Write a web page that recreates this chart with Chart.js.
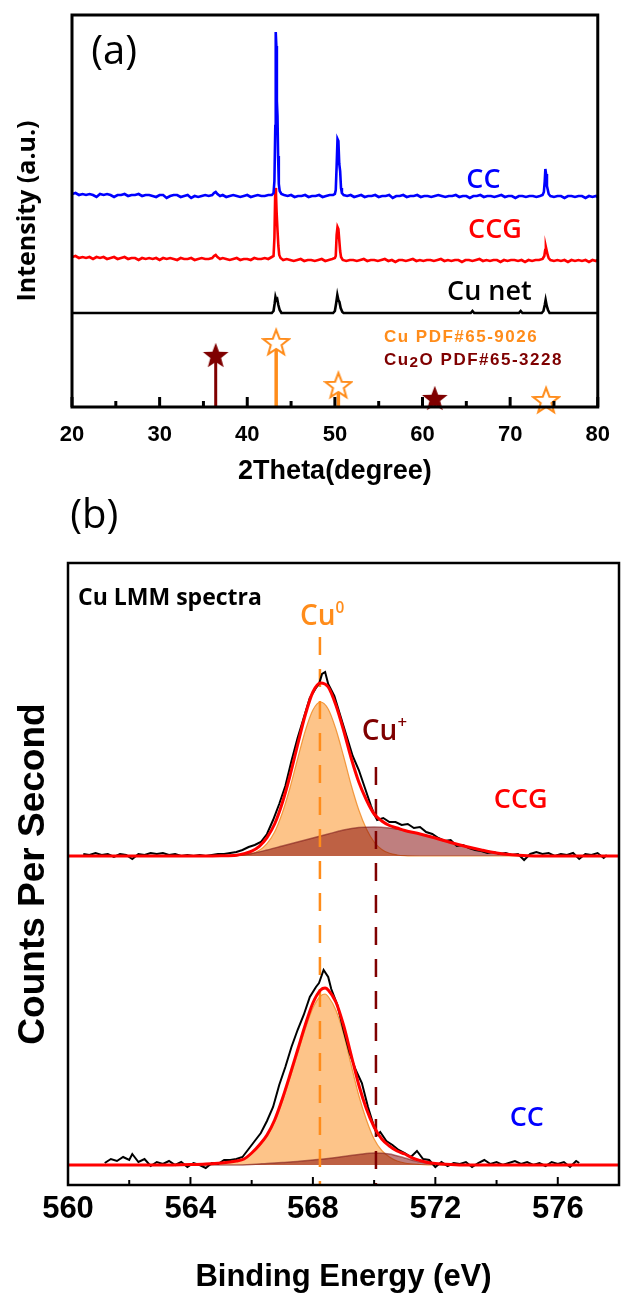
<!DOCTYPE html>
<html>
<head>
<meta charset="utf-8">
<script src="https://cdn.jsdelivr.net/npm/chart.js@4.4.1/dist/chart.umd.min.js"></script>
<style>
  html, body { margin: 0; padding: 0; background: #fff; }
  #wrap { position: relative; width: 625px; height: 1296px; }
  canvas { position: absolute; left: 0; }
  #xrd { top: 0; }
  #xps { top: 490px; }
</style>
</head>
<body>
<div id="wrap">
  <canvas id="xrd" width="625" height="490"></canvas>
  <canvas id="xps" width="625" height="806"></canvas>
</div>
<script>
// ---------- (a) XRD data: [2theta, intensity above the pattern's own baseline] ----------
const xrdTicks = [20, 30, 40, 50, 60, 70, 80];
const xrdMinorTicks = [25, 35, 45, 55, 65, 75];

const ccBase = 211, ccgBase = 147, cuNetBase = 94;

const ccPattern = [[20.0,2],[20.4,3],[20.8,1],[21.2,2],[21.6,1],[22.0,2],[22.4,1],[22.8,-1],[23.2,2],[23.6,1],[24.0,2],[24.4,1],[24.8,-1],[25.2,1],[25.6,1],[26.0,2],[26.4,0],[26.8,1],[27.2,1],[27.6,2],[28.0,0],[28.4,1],[28.8,1],[29.2,0],[29.6,-1],[30.0,1],[30.4,1],[30.8,-2],[31.2,0],[31.6,1],[32.0,1],[32.4,-1],[32.8,0],[33.2,1],[33.6,-2],[34.0,0],[34.4,-1],[34.8,0],[35.2,1],[35.6,0],[36.0,1],[36.2,3],[36.4,4],[36.6,2],[36.9,0],[37.2,1],[37.6,-1],[38.0,0],[38.4,1],[38.8,0],[39.2,-1],[39.6,0],[40.0,1],[40.4,-1],[40.8,0],[41.2,1],[41.6,0],[42.0,0],[42.4,1],[42.8,1],[43.0,3],[43.1,15],[43.2,70],[43.25,164],[43.32,150],[43.38,95],[43.45,80],[43.52,40],[43.6,12],[43.7,5],[43.9,2],[44.2,1],[44.6,0],[45.0,1],[45.4,-1],[45.8,0],[46.2,0],[46.6,1],[47.0,-1],[47.4,0],[47.8,0],[48.2,1],[48.6,-1],[49.0,0],[49.4,1],[49.8,1],[50.0,2],[50.1,6],[50.2,30],[50.3,57],[50.4,55],[50.5,32],[50.6,25],[50.7,8],[50.8,3],[51.0,1],[51.4,0],[51.8,1],[52.2,-1],[52.6,0],[53.0,1],[53.4,-1],[53.8,0],[54.2,0],[54.6,1],[55.0,-1],[55.4,0],[55.8,0],[56.2,1],[56.6,-2],[57.0,0],[57.4,0],[57.8,1],[58.2,-1],[58.6,0],[59.0,0],[59.4,1],[59.8,-1],[60.2,0],[60.6,0],[61.0,-1],[61.4,0],[61.8,1],[62.2,0],[62.6,-1],[63.0,0],[63.4,0],[63.8,1],[64.2,-1],[64.6,0],[65.0,0],[65.4,-2],[65.8,0],[66.2,0],[66.6,1],[67.0,-1],[67.4,0],[67.8,0],[68.2,-1],[68.6,0],[69.0,1],[69.4,-1],[69.8,0],[70.2,0],[70.6,-2],[71.0,0],[71.4,0],[71.8,-1],[72.2,0],[72.6,0],[73.0,-1],[73.4,0],[73.7,1],[73.85,4],[73.95,15],[74.02,27],[74.1,22],[74.2,10],[74.3,6],[74.4,2],[74.6,0],[75.0,-1],[75.4,0],[75.8,0],[76.2,-2],[76.6,0],[77.0,0],[77.4,-1],[77.8,0],[78.2,0],[78.6,-2],[79.0,0],[79.4,-1],[79.8,0],[80.0,-1]];

const ccgPattern = [[20.0,3],[20.4,4],[20.8,2],[21.2,3],[21.6,2],[22.0,3],[22.4,1],[22.8,3],[23.2,2],[23.6,3],[24.0,1],[24.4,2],[24.8,3],[25.2,1],[25.6,2],[26.0,3],[26.4,1],[26.8,2],[27.2,2],[27.6,0],[28.0,2],[28.4,1],[28.8,2],[29.2,1],[29.6,2],[30.0,0],[30.4,2],[30.8,1],[31.2,2],[31.6,1],[32.0,0],[32.4,2],[32.8,1],[33.2,1],[33.6,2],[34.0,0],[34.4,1],[34.8,2],[35.2,1],[35.6,1],[36.0,2],[36.2,4],[36.4,5],[36.6,3],[36.9,1],[37.2,2],[37.6,1],[38.0,0],[38.4,1],[38.8,2],[39.2,0],[39.6,1],[40.0,1],[40.4,0],[40.8,2],[41.2,1],[41.6,1],[42.0,2],[42.4,1],[42.8,3],[43.0,4],[43.1,22],[43.2,72],[43.28,66],[43.35,48],[43.45,30],[43.55,14],[43.65,5],[43.8,2],[44.1,0],[44.5,1],[44.9,0],[45.3,-1],[45.7,0],[46.1,1],[46.5,-1],[46.9,0],[47.3,0],[47.7,-1],[48.1,0],[48.5,1],[48.9,-1],[49.3,0],[49.7,1],[50.0,2],[50.1,4],[50.2,25],[50.3,33],[50.4,31],[50.5,20],[50.6,9],[50.7,3],[50.9,0],[51.3,-1],[51.7,0],[52.1,0],[52.5,-1],[52.9,0],[53.3,1],[53.7,-1],[54.1,0],[54.5,0],[54.9,-1],[55.3,0],[55.7,1],[56.1,-1],[56.5,0],[56.9,-2],[57.3,0],[57.7,0],[58.1,-1],[58.5,0],[58.9,1],[59.3,-1],[59.7,0],[60.1,-1],[60.5,0],[60.9,0],[61.3,-1],[61.7,0],[62.1,1],[62.5,-1],[62.9,0],[63.3,-1],[63.7,0],[64.1,0],[64.5,-2],[64.9,0],[65.3,0],[65.7,-1],[66.1,0],[66.5,1],[66.9,-1],[67.3,0],[67.7,-1],[68.1,0],[68.5,0],[68.9,-2],[69.3,0],[69.7,-1],[70.1,0],[70.5,0],[70.9,-1],[71.3,0],[71.7,-2],[72.1,0],[72.5,-1],[72.9,0],[73.3,0],[73.7,1],[73.9,4],[74.0,10],[74.08,13],[74.18,9],[74.28,5],[74.4,2],[74.6,0],[75.0,-1],[75.4,0],[75.8,-1],[76.2,0],[76.6,-2],[77.0,0],[77.4,-1],[77.8,0],[78.2,-1],[78.6,0],[79.0,-2],[79.4,0],[79.8,-1],[80.0,0]];

const cuNetPattern = [[20,0],[30,0],[40,0],[42.8,0],[43.0,2],[43.12,9],[43.22,16],[43.32,13],[43.42,14],[43.55,8],[43.7,3],[43.9,0],[49.8,0],[50.0,2],[50.15,10],[50.28,18],[50.4,13],[50.52,11],[50.66,5],[50.85,1],[51.0,0],[65.5,0],[65.7,2],[65.9,0],[71.0,0],[71.2,2],[71.4,0],[73.6,0],[73.8,2],[73.95,8],[74.05,13],[74.18,7],[74.32,3],[74.5,0],[80,0]];

// standard cards (stick positions, relative heights)
const cuCardTheta = [43.3, 50.4, 74.1];
const cuCardHeight = [65, 22, 7];
const cu2oCardTheta = [36.4, 61.4];
const cu2oCardHeight = [52, 9];

// ---------- (b) XPS Cu LMM data: [binding energy, counts above baseline] ----------
const xpsTicks = [560, 564, 568, 572, 576];
const xpsMinorTicks = [562, 566, 570, 574];
const cu0Energy = 568.23, cuPlusEnergy = 570.06;

const ccgOffset = 309, ccOffset = 0;

const ccgRaw = [[560.5,2],[560.7,1],[560.9,3],[561.1,1],[561.3,2],[561.5,-1],[561.7,2],[561.9,1],[562.1,-3],[562.3,2],[562.5,1],[562.7,3],[562.9,2],[563.1,3],[563.3,1],[563.5,2],[563.7,0],[563.9,1],[564.1,0],[564.3,1],[564.5,0],[564.7,1],[564.9,2],[565.1,2],[565.3,3],[565.5,4],[565.7,6],[565.9,9],[566.1,11],[566.3,14],[566.5,22],[566.7,36],[566.9,52],[567.1,70],[567.3,95],[567.5,118],[567.7,138],[567.9,158],[568.1,168],[568.2,172],[568.3,182],[568.4,184],[568.5,172],[568.7,160],[568.9,140],[569.1,120],[569.3,100],[569.5,86],[569.7,68],[569.9,50],[570.0,42],[570.1,36],[570.3,38],[570.5,34],[570.7,34],[570.9,31],[571.1,32],[571.3,28],[571.5,29],[571.7,24],[571.9,22],[572.1,18],[572.3,15],[572.5,16],[572.7,10],[572.9,11],[573.1,8],[573.3,6],[573.5,5],[573.7,3],[573.9,4],[574.1,2],[574.3,3],[574.5,1],[574.7,2],[574.9,-4],[575.1,2],[575.3,4],[575.5,2],[575.7,3],[575.9,0],[576.1,2],[576.3,1],[576.5,3],[576.7,-3],[576.9,2],[577.1,1],[577.3,3],[577.5,-2],[577.6,1]];
const ccgFit = [[560,0],[562,0],[564,0],[565,0.3],[565.5,0.8],[565.75,2.4],[566,4.9],[566.25,9.7],[566.5,18.4],[566.75,32],[567,53],[567.25,80],[567.5,111],[567.75,141],[568,164],[568.25,173],[568.5,169],[568.75,151],[569,126],[569.25,98],[569.5,74],[569.75,56],[570,42],[570.25,35],[570.5,30.5],[570.75,28],[571,25.5],[571.5,22],[572,18],[572.5,13.5],[573,9.5],[573.5,6],[574,3],[574.5,1.2],[575,0.3],[575.5,0],[578,0]];
const ccgCu0 = [[560,0],[565.25,0],[565.5,0.3],[565.75,0.9],[566,2.4],[566.25,5.7],[566.5,12.4],[566.75,24],[567,43],[567.25,68],[567.5,97],[567.75,125],[568,146],[568.25,154],[568.5,147],[568.75,127],[569,100],[569.25,71],[569.5,46],[569.75,27],[570,14],[570.25,6.5],[570.5,2.7],[570.75,1],[571,0.3],[571.5,0],[578,0]];
const ccgCuPlus = [[560,0],[565,0],[565.5,0.5],[566,2.5],[566.5,6],[567,10],[567.5,14],[568,18],[568.5,22],[569,26],[569.5,28.5],[570,29],[570.5,28],[571,25.5],[571.5,22],[572,18],[572.5,13.5],[573,9.5],[573.5,6],[574,3],[574.5,1.2],[575,0.3],[575.5,0],[578,0]];

const ccRaw = [[561.2,2],[561.4,6],[561.6,4],[561.8,8],[562.0,5],[562.1,11],[562.3,3],[562.5,6],[562.7,-1],[562.9,3],[563.1,1],[563.3,4],[563.5,0],[563.7,3],[563.9,-2],[564.1,2],[564.3,0],[564.5,-3],[564.7,2],[564.9,1],[565.1,5],[565.3,5],[565.5,6],[565.7,8],[565.9,16],[566.1,24],[566.3,32],[566.5,44],[566.7,58],[566.9,80],[567.1,98],[567.3,118],[567.5,135],[567.7,150],[567.9,168],[568.1,178],[568.2,182],[568.35,195],[568.5,188],[568.6,176],[568.8,160],[569.0,135],[569.2,112],[569.4,95],[569.6,82],[569.8,58],[570.0,38],[570.1,30],[570.2,33],[570.4,24],[570.6,20],[570.8,15],[571.0,12],[571.2,8],[571.4,14],[571.6,6],[571.8,5],[572.0,-2],[572.2,3],[572.4,-1],[572.6,2],[572.8,1],[573.0,3],[573.2,-2],[573.4,2],[573.6,5],[573.8,1],[574.0,3],[574.2,0],[574.4,2],[574.6,4],[574.8,1],[575.0,3],[575.2,0],[575.4,2],[575.6,-1],[575.8,3],[576.0,1],[576.2,3],[576.4,-2],[576.6,4],[576.7,2]];
const ccFit = [[560,0],[563,0],[564,0.5],[564.5,1],[565,2],[565.5,4],[565.75,6],[566,12],[566.25,20],[566.5,30],[566.75,45],[567,66],[567.25,90],[567.5,115],[567.75,140],[568,162],[568.25,175],[568.4,177],[568.5,175],[568.75,163],[569,140],[569.25,110],[569.5,80],[569.75,56],[570,38],[570.25,26],[570.5,19],[570.75,14],[571,11],[571.25,7],[571.5,4.5],[571.75,2.5],[572,1.5],[572.5,0.5],[573,0],[578,0]];
const ccCu0 = [[560,0],[564.5,0],[565,2],[565.5,4],[565.75,6],[566,11.5],[566.25,19],[566.5,28.5],[566.75,43],[567,63.5],[567.25,87],[567.5,111.5],[567.75,136],[568,157],[568.25,169],[568.4,171],[568.5,168.5],[568.75,155],[569,131.5],[569.25,100],[569.5,69.5],[569.75,45],[570,26],[570.25,14.5],[570.5,8],[570.75,4],[571,2],[571.5,0.5],[572,0],[578,0]];
const ccCuPlus = [[560,0],[565.5,0],[566,0.5],[566.5,1.5],[567,2.5],[567.5,3.5],[568,5],[568.5,6.5],[569,8.5],[569.5,10.5],[570,12],[570.5,11],[571,7],[571.5,3],[572,1],[572.5,0],[578,0]];

// ---------- helpers ----------
const pts = (arr, off) => arr.map(([x, y]) => ({ x: x, y: y + off }));

function makeStar(fill, stroke, size) {
  const c = document.createElement('canvas');
  c.width = size; c.height = size;
  const g = c.getContext('2d');
  const R = size / 2 - 1.5, r = R * 0.42;
  const cx = size / 2, cy = size / 2 + R * 0.095;
  g.beginPath();
  for (let i = 0; i < 10; i++) {
    const a = -Math.PI / 2 + i * Math.PI / 5;
    const rad = i % 2 ? r : R;
    g.lineTo(cx + rad * Math.cos(a), cy + rad * Math.sin(a));
  }
  g.closePath();
  g.fillStyle = fill;
  g.fill();
  if (stroke) { g.strokeStyle = stroke; g.lineWidth = 2; g.stroke(); }
  return c;
}

// box with inward ticks on the bottom axis
const frame = {
  id: 'frame',
  afterDatasetsDraw(chart, args, o) {
    const { ctx, chartArea: a } = chart;
    const x = chart.scales.x;
    ctx.save();
    ctx.strokeStyle = '#000';
    ctx.lineWidth = o.width;
    ctx.strokeRect(a.left, a.top, a.right - a.left, a.bottom - a.top);
    ctx.lineWidth = o.tickWidth;
    const tick = (v, len) => {
      const p = x.getPixelForValue(v);
      ctx.beginPath();
      ctx.moveTo(p, a.bottom);
      ctx.lineTo(p, a.bottom - len);
      ctx.stroke();
    };
    o.major.forEach(v => tick(v, o.majorLen));
    o.minor.forEach(v => tick(v, o.minorLen));
    ctx.restore();
  }
};

// text notes placed in data coordinates; each note is a list of runs (for sub/superscripts)
const notes = {
  id: 'notes',
  afterDraw(chart, args, o) {
    const { ctx } = chart;
    const x = chart.scales.x, y = chart.scales.y;
    ctx.save();
    ctx.textBaseline = 'middle';
    ctx.textAlign = 'left';
    for (const n of o.items) {
      let px = x.getPixelForValue(n.x);
      const py = y.getPixelForValue(n.y);
      if ('letterSpacing' in ctx) ctx.letterSpacing = (n.spacing || 0) + 'px';
      ctx.fillStyle = n.color;
      for (const r of n.runs) {
        ctx.font = `${n.weight} ${n.size * (r.scale || 1)}px ${n.family}`;
        ctx.fillText(r.t, px, py + (r.dy || 0) * n.size);
        px += ctx.measureText(r.t).width;
      }
    }
    ctx.restore();
  }
};

Chart.register(frame, notes);

const OPEN = '"Open Sans", "Liberation Sans", sans-serif';
const ARIAL = '"Liberation Sans", Arial, sans-serif';

// ---------- chart (a) ----------
const orange = '#ff8c1a', darkRed = '#7f0000';

const sticks = [];
cuCardTheta.forEach((t, i) => sticks.push({
  data: [{ x: t, y: 0 }, { x: t, y: cuCardHeight[i] }],
  borderColor: orange, borderWidth: 3.5, pointRadius: 0
}));
cu2oCardTheta.forEach((t, i) => sticks.push({
  data: [{ x: t, y: 0 }, { x: t, y: cu2oCardHeight[i] }],
  borderColor: darkRed, borderWidth: 3, pointRadius: 0
}));

const xrdLine = (arr, off, color) => ({
  data: pts(arr, off), borderColor: color, borderWidth: 2.6,
  pointRadius: 0, tension: 0
});

new Chart(document.getElementById('xrd'), {
  type: 'line',
  data: {
    datasets: [
      xrdLine(ccPattern, ccBase, '#0000ff'),
      xrdLine(ccgPattern, ccgBase, '#ff0000'),
      xrdLine(cuNetPattern, cuNetBase, '#000000'),
      {
        data: cuCardTheta.map((t, i) => ({ x: t, y: cuCardHeight[i] })),
        showLine: false, pointStyle: makeStar('#ffffff', orange, 30), pointRadius: 14, clip: false
      },
      {
        data: cu2oCardTheta.map((t, i) => ({ x: t, y: cu2oCardHeight[i] })),
        showLine: false, pointStyle: makeStar(darkRed, null, 30), pointRadius: 14, clip: false
      },
      ...sticks
    ]
  },
  options: {
    responsive: false,
    animation: false,
    devicePixelRatio: 1,
    layout: { padding: { left: 0, right: 17, top: 15, bottom: 0 } },
    scales: {
      x: {
        type: 'linear', min: 20, max: 80,
        afterBuildTicks: s => { s.ticks = xrdTicks.map(v => ({ value: v })); },
        afterFit: s => { s.height = 83; },
        grid: { display: false, drawTicks: false },
        border: { display: false },
        ticks: { color: '#000', padding: 15, font: { family: ARIAL, size: 22, weight: 'bold' } },
        title: {
          display: true, text: '2Theta(degree)', color: '#000',
          font: { family: ARIAL, size: 27, weight: 'bold' }, padding: { top: 0, bottom: 2 }
        }
      },
      y: {
        min: 0, max: 392,
        afterFit: s => { s.width = 72; },
        grid: { display: false, drawTicks: false },
        border: { display: false },
        ticks: { display: false },
        title: {
          display: true, text: 'Intensity (a.u.)', color: '#000',
          font: { family: OPEN, size: 25, weight: 'bold' }, padding: { top: 13, bottom: 0 }
        }
      }
    },
    plugins: {
      legend: { display: false },
      tooltip: { enabled: false },
      frame: { width: 3, tickWidth: 3, major: xrdTicks, minor: xrdMinorTicks, majorLen: 10, minorLen: 6 },
      notes: {
        items: [
          { x: 22.2, y: 354, color: '#000', size: 40, weight: 'normal', family: OPEN, runs: [{ t: '(a)' }] },
          { x: 65.0, y: 227, color: '#0000ff', size: 27, weight: '600', family: OPEN, runs: [{ t: 'CC' }] },
          { x: 65.2, y: 177, color: '#ff0000', size: 27, weight: '600', family: OPEN, runs: [{ t: 'CCG' }] },
          { x: 62.8, y: 115, color: '#000', size: 27, weight: '600', family: OPEN, runs: [{ t: 'Cu net' }] },
          { x: 55.6, y: 70, color: orange, size: 17, weight: 'bold', family: ARIAL, spacing: 1.5,
            runs: [{ t: 'Cu PDF#65-9026' }] },
          { x: 55.6, y: 47, color: darkRed, size: 17, weight: 'bold', family: ARIAL, spacing: 1.5,
            runs: [{ t: 'Cu' }, { t: '2', scale: 0.9, dy: 0.15 }, { t: 'O PDF#65-3228' }] }
        ]
      }
    }
  }
});

// ---------- chart (b) ----------
const fitLine = (arr, off) => ({
  data: pts(arr, off), borderColor: '#ff0000', borderWidth: 3,
  pointRadius: 0, cubicInterpolationMode: 'monotone'
});
const rawLine = (arr, off) => ({
  data: pts(arr, off), borderColor: '#000', borderWidth: 2,
  pointRadius: 0, tension: 0
});
const cu0Area = (arr, off) => ({
  data: pts(arr, off), borderColor: 'rgba(240,140,40,0.85)', borderWidth: 1.2,
  backgroundColor: 'rgba(252,160,64,0.62)', fill: { value: off },
  pointRadius: 0, cubicInterpolationMode: 'monotone'
});
const cuPlusArea = (arr, off) => ({
  data: pts(arr, off), borderColor: 'rgba(128,30,30,0.6)', borderWidth: 1.5,
  backgroundColor: 'rgba(128,0,0,0.5)', fill: { value: off },
  pointRadius: 0, cubicInterpolationMode: 'monotone'
});
// drawn from the top down so the dash pattern starts at the upper end
const dash = (e, top, color) => ({
  data: [{ x: e, y: top }, { x: e, y: -20 }],
  borderColor: color, borderWidth: 2.5, borderDash: [18, 14], pointRadius: 0
});

new Chart(document.getElementById('xps'), {
  type: 'line',
  data: {
    datasets: [
      fitLine(ccgFit, ccgOffset),
      fitLine(ccFit, ccOffset),
      rawLine(ccgRaw, ccgOffset),
      rawLine(ccRaw, ccOffset),
      dash(cu0Energy, 528, '#ff8c1a'),
      dash(cuPlusEnergy, 398, '#7f0000'),
      cuPlusArea(ccgCuPlus, ccgOffset),
      cuPlusArea(ccCuPlus, ccOffset),
      cu0Area(ccgCu0, ccgOffset),
      cu0Area(ccCu0, ccOffset)
    ]
  },
  options: {
    responsive: false,
    animation: false,
    devicePixelRatio: 1,
    layout: { padding: { left: 0, right: 6, top: 73, bottom: 0 } },
    scales: {
      x: {
        type: 'linear', min: 560, max: 578,
        afterBuildTicks: s => { s.ticks = xpsTicks.map(v => ({ value: v })); },
        afterFit: s => { s.height = 111; },
        grid: { display: false, drawTicks: false },
        border: { display: false },
        ticks: { color: '#000', padding: 6, font: { family: ARIAL, size: 31, weight: 'bold' } },
        title: {
          display: true, text: 'Binding Energy (eV)', color: '#000',
          font: { family: ARIAL, size: 31, weight: 'bold' }, padding: { top: 0, bottom: 0 }
        }
      },
      y: {
        min: -20, max: 602,
        afterFit: s => { s.width = 68; },
        grid: { display: false, drawTicks: false },
        border: { display: false },
        ticks: { display: false },
        title: {
          display: true, text: 'Counts Per Second', color: '#000',
          font: { family: ARIAL, size: 37, weight: 'bold' }, padding: { top: 12, bottom: 0 }
        }
      }
    },
    plugins: {
      legend: { display: false },
      tooltip: { enabled: false },
      frame: { width: 2.5, tickWidth: 2, major: xpsTicks, minor: xpsMinorTicks, majorLen: 8, minorLen: 5 },
      notes: {
        items: [
          { x: 560.07, y: 648, color: '#000', size: 40, weight: 'normal', family: OPEN, runs: [{ t: '(b)' }] },
          { x: 560.33, y: 567, color: '#000', size: 23, weight: 'bold', family: OPEN, runs: [{ t: 'Cu LMM spectra' }] },
          { x: 567.58, y: 548, color: '#ff8c1a', size: 28, weight: '600', family: OPEN,
            runs: [{ t: 'Cu' }, { t: '0', scale: 0.55, dy: -0.3 }] },
          { x: 569.6, y: 433, color: '#7f0000', size: 28, weight: '600', family: OPEN,
            runs: [{ t: 'Cu' }, { t: '+', scale: 0.6, dy: -0.3 }] },
          { x: 573.91, y: 365, color: '#ff0000', size: 27, weight: '600', family: OPEN, runs: [{ t: 'CCG' }] },
          { x: 574.43, y: 47, color: '#0000ff', size: 27, weight: '600', family: OPEN, runs: [{ t: 'CC' }] }
        ]
      }
    }
  }
});
</script>
</body>
</html>
